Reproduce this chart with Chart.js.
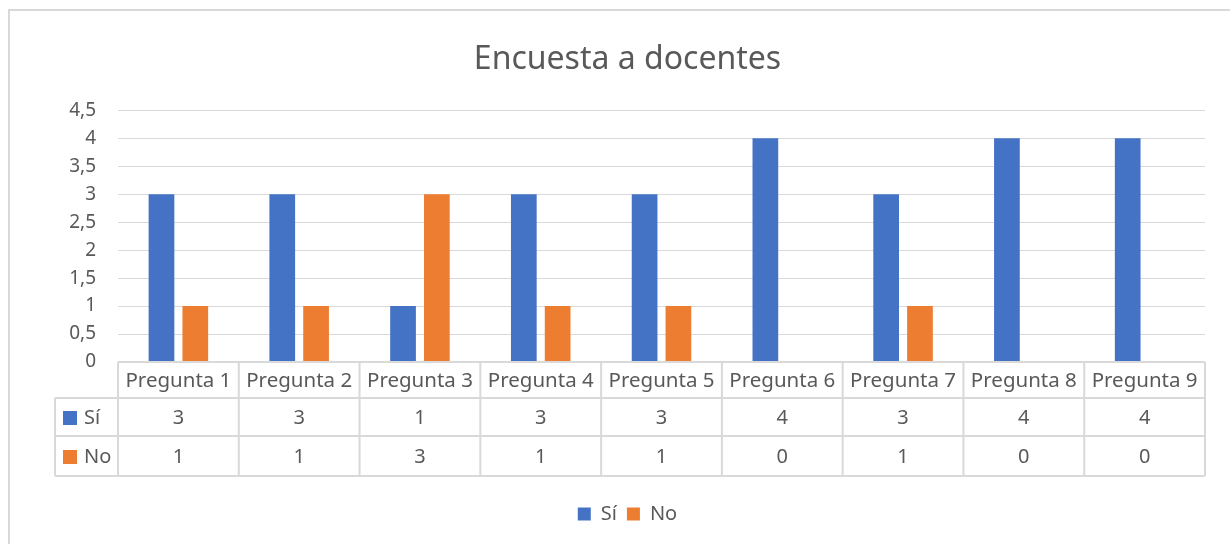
<!DOCTYPE html>
<html>
<head>
<meta charset="utf-8">
<script src="https://cdn.jsdelivr.net/npm/chart.js@4/dist/chart.umd.min.js"></script>
<style>
  html, body { margin: 0; padding: 0; background: #fff; overflow: hidden; }
  #frame { position: absolute; left: 8px; top: 9px; width: 1260px; height: 580px; border: 2px solid #d9d9d9; }
  #wrap { position: absolute; left: 0; top: 0; width: 1230px; height: 544px; }
</style>
</head>
<body>
<div id="frame"></div>
<div id="wrap"><canvas id="myChart"></canvas></div>
<script>
const categories = ["Pregunta 1", "Pregunta 2", "Pregunta 3", "Pregunta 4", "Pregunta 5", "Pregunta 6", "Pregunta 7", "Pregunta 8", "Pregunta 9"];
const si = [3, 3, 1, 3, 3, 4, 3, 4, 4];
const no = [1, 1, 3, 1, 1, 0, 1, 0, 0];
const seriesNames = ["Sí", "No"];

const FONT = "'Noto Sans', sans-serif";
const TEXT = "#595959";
const LINE = "#d9d9d9";

// tabla de datos debajo del eje (como Excel)
const dataTable = {
  id: "dataTable",
  afterDraw(chart) {
    const ctx = chart.ctx;
    const x = chart.scales.x;
    const area = chart.chartArea;
    const n = categories.length;
    const cw = (area.right - area.left) / n;
    const top = area.bottom;
    const rows = [top, top + 36, top + 74, top + 114];
    const leftCol = 55;

    ctx.save();
    ctx.strokeStyle = LINE;
    ctx.lineWidth = 2;
    // horizontales
    ctx.beginPath();
    ctx.moveTo(area.left, rows[0]); ctx.lineTo(area.right, rows[0]);
    for (let r = 1; r < rows.length; r++) {
      ctx.moveTo(leftCol, rows[r]); ctx.lineTo(area.right, rows[r]);
    }
    // verticales
    for (let i = 0; i <= n; i++) {
      const px = area.left + i * cw;
      ctx.moveTo(px, rows[0]); ctx.lineTo(px, rows[3]);
    }
    ctx.moveTo(leftCol, rows[1]); ctx.lineTo(leftCol, rows[3]);
    ctx.stroke();

    ctx.fillStyle = TEXT;
    ctx.font = "20.5px " + FONT;
    ctx.textAlign = "center";
    ctx.textBaseline = "middle";
    categories.forEach((c, i) => {
      const cx = x.getPixelForValue(i);
      ctx.fillText(c, cx, (rows[0] + rows[1]) / 2 + 1);
    });
    ctx.font = "20px " + FONT;
    chart.data.datasets.forEach((ds, d) => {
      const cy = (rows[d + 1] + rows[d + 2]) / 2 + 1;
      ds.data.forEach((v, i) => {
        ctx.fillStyle = TEXT;
        ctx.fillText(String(v), x.getPixelForValue(i), cy);
      });
      ctx.fillStyle = ds.backgroundColor;
      ctx.fillRect(leftCol + 8, cy - 7, 14, 14);
      ctx.fillStyle = TEXT;
      ctx.textAlign = "left";
      ctx.fillText(seriesNames[d], leftCol + 29, cy);
      ctx.textAlign = "center";
    });
    ctx.restore();
  }
};

const ctx = document.getElementById("myChart").getContext("2d");
const chart = new Chart(ctx, {
  type: "bar",
  data: {
    labels: categories,
    datasets: [
      { label: seriesNames[0], data: si, backgroundColor: "#4472C4" },
      { label: seriesNames[1], data: no, backgroundColor: "#ED7D31" }
    ]
  },
  options: {
    responsive: true,
    maintainAspectRatio: false,
    animation: false,
    datasets: { bar: { categoryPercentage: 0.56, barPercentage: 0.76 } },
    layout: { padding: { left: 25, right: 0, top: 0, bottom: 10 } },
    plugins: {
      title: {
        display: true,
        text: "Encuesta a docentes",
        color: TEXT,
        font: { family: FONT, size: 32, weight: "normal", lineHeight: 1.2 },
        padding: { top: 41, bottom: 31 }
      },
      legend: {
        position: "bottom",
        labels: {
          color: TEXT,
          font: { family: FONT, size: 20 },
          boxWidth: 13,
          boxHeight: 13,
          padding: 10
        }
      },
      tooltip: { enabled: false }
    },
    scales: {
      x: {
        grid: { display: false },
        border: { display: false },
        ticks: { display: false },
        afterFit(scale) { scale.height = 132; }
      },
      y: {
        min: 0,
        max: 4.5,
        border: { display: false },
        grid: { color: LINE, lineWidth: 1, drawTicks: false },
        ticks: {
          stepSize: 0.5,
          padding: 22,
          color: TEXT,
          font: { family: FONT, size: 19 },
          callback: (v) => String(v).replace(".", ",")
        },
        afterFit(scale) { scale.width = 93; }
      },
      // margen derecho vacío
      yr: {
        position: "right",
        display: true,
        grid: { display: false },
        border: { display: false },
        ticks: { display: false },
        afterFit(scale) { scale.width = 25; }
      }
    }
  },
  plugins: [dataTable]
});
</script>
</body>
</html>
